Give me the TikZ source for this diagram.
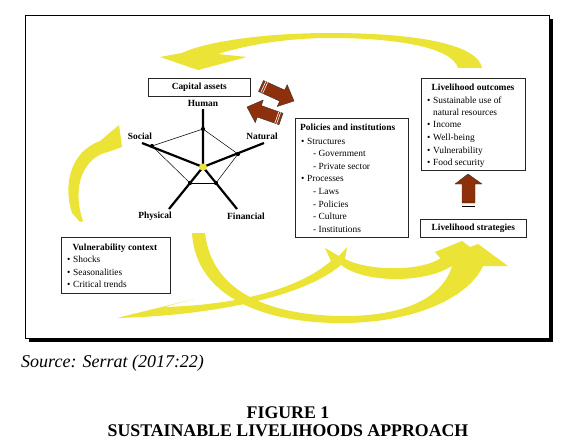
\documentclass[tikz,border=0pt]{standalone}
\usepackage{fontspec}
\setmainfont{Liberation Serif}
\usetikzlibrary{shapes.geometric}
\definecolor{ylw}{RGB}{235,228,55}
\definecolor{brn}{RGB}{142,48,12}
\tikzset{
  boxnode/.style={draw=black!85, line width=0.6pt, inner sep=0pt, anchor=north west},
  txt/.style={font=\fontsize{9.4}{11}\selectfont, inner sep=0pt, anchor=base west},
  ttl/.style={font=\fontsize{9.4}{11}\selectfont\bfseries, inner sep=0pt, anchor=base},
  lbl/.style={font=\fontsize{9.4}{11}\selectfont\bfseries, inner sep=0pt},
  yarrow/.style={fill=ylw, draw=none},
  barrow/.style={fill=brn, draw=black!80, line width=0.4pt, line join=round},
  spoke/.style={line width=2.2pt},
  web/.style={line width=0.5pt},
  dotnode/.style={circle, fill=black, inner sep=0pt, minimum size=4.2pt},
  captxt/.style={font=\fontsize{17.8}{20}\selectfont\bfseries, inner sep=0pt, anchor=base}
}
\begin{document}
\begin{tikzpicture}[x=1pt,y=-1pt]
\useasboundingbox (0,0) rectangle (576,444);
\fill[white] (0,0) rectangle (576,444);

% frame with shadow
\draw[line width=0.6pt] (25,15) rectangle (549,338);
\draw[line width=3.5pt] (551.5,19) -- (551.5,340.5) -- (29,340.5);

% ---------- yellow arrows ----------
% top arc: outcomes -> capital assets
\fill[yarrow] (482,68) .. controls (478,45) and (420,33) .. (330,33)
  .. controls (262,33) and (205,42) .. (182,53) -- (160,57) -- (198,70) -- (247,57) -- (218,54)
  .. controls (250,44) and (290,38) .. (330,38)
  .. controls (400,38) and (452,48) .. (458,68) -- cycle;
% left arc: vulnerability -> capital assets
\fill[yarrow] (80,222) -- (72,213) .. controls (63,185) and (70,152) .. (100,141) -- (119,125) -- (122,147) -- (108,152)
  .. controls (84,157) and (71,186) .. (83,221) -- cycle;
% big bottom arc: capital assets -> strategies
\fill[yarrow] (192,233) .. controls (196,300) and (270,324) .. (345,323)
  .. controls (420,322) and (470,295) .. (483,266) -- (508,266) -- (478,244) -- (470,247) -- (462,241) -- (435,252) -- (441,259) -- (453,262)
  .. controls (445,300) and (400,316) .. (345,316)
  .. controls (275,316) and (212,295) .. (205,233) -- cycle;
% policies -> strategies
\fill[yarrow] (339,256) -- (347,247) -- (345,259) .. controls (368,271) and (420,272) .. (441,258) -- (456,263)
  .. controls (430,284) and (365,284) .. (341,265) -- cycle;
% policies -> vulnerability
\fill[yarrow] (339,256) -- (325,248) -- (331,261) .. controls (300,288) and (240,305) .. (164,307) -- (194,299) -- (117,318)
  .. controls (200,316) and (300,300) .. (341,265) -- cycle;

% ---------- boxes ----------
\node[boxnode, minimum width=102pt, minimum height=18pt] (cap) at (148,78) {};
\node[ttl, anchor=center] (capt) at (cap.center) {Capital assets};

\node[boxnode, minimum width=113pt, minimum height=119pt] (pol) at (295,118) {};
\node[txt, font=\fontsize{9.4}{11}\selectfont\bfseries] (p0) at (300,131) {Policies and institutions};
\node[txt] (p1b) at (301,144) {\textbullet};
\node[txt] (p1) at (307,144) {Structures};
\node[txt] (p2) at (313,156) {- Government};
\node[txt] (p3) at (313,169) {- Private sector};
\node[txt] (p4b) at (301,181) {\textbullet};
\node[txt] (p4) at (307,181) {Processes};
\node[txt] (p5) at (313,194) {- Laws};
\node[txt] (p6) at (313,207) {- Policies};
\node[txt] (p7) at (313,219) {- Culture};
\node[txt] (p8) at (313,232) {- Institutions};

\node[boxnode, minimum width=104pt, minimum height=92pt] (out) at (421,78) {};
\node[ttl] (o0) at (473,91) {Livelihood outcomes};
\node[txt] (o1b) at (427,103) {\textbullet};
\node[txt] (o1) at (433,103) {Sustainable use of};
\node[txt] (o2) at (433,115) {natural resources};
\node[txt] (o3b) at (427,127) {\textbullet};
\node[txt] (o3) at (433,127) {Income};
\node[txt] (o4b) at (427,140) {\textbullet};
\node[txt] (o4) at (433,140) {Well-being};
\node[txt] (o5b) at (427,153) {\textbullet};
\node[txt] (o5) at (433,153) {Vulnerability};
\node[txt] (o6b) at (427,165) {\textbullet};
\node[txt] (o6) at (433,165) {Food security};

\node[boxnode, minimum width=106pt, minimum height=18pt] (str) at (420,219) {};
\node[ttl, anchor=center] (strt) at (str.center) {Livelihood strategies};

\node[boxnode, minimum width=109pt, minimum height=56pt] (vul) at (61,237) {};
\node[ttl] (v0) at (115,250) {Vulnerability context};
\node[txt] (v1b) at (67,262) {\textbullet};
\node[txt] (v1) at (73,262) {Shocks};
\node[txt] (v2b) at (67,275) {\textbullet};
\node[txt] (v2) at (73,275) {Seasonalities};
\node[txt] (v3b) at (67,287) {\textbullet};
\node[txt] (v3) at (73,287) {Critical trends};

% ---------- brown block arrows ----------
\filldraw[barrow] (258.5,91.5) -- (263.5,80.5) -- (284.7,90.1) -- (287.2,84.7) -- (294,101) -- (277.2,106.5) -- (279.7,101.1) -- cycle;
\draw[white, line width=0.6pt] (260.8,92.5) -- (265.8,81.5) (262.6,93.4) -- (267.6,82.4);
\filldraw[barrow] (283,113.3) -- (279,124.7) -- (257.3,117) -- (255.3,122.6) -- (247,107) -- (263.3,100) -- (261.3,105.6) -- cycle;
\draw[white, line width=0.6pt] (280.6,112.5) -- (276.6,123.9) (278.8,111.8) -- (274.8,123.2);
\filldraw[barrow] (468,174) -- (482,184) -- (475,184) -- (475,203) -- (462,203) -- (462,184) -- (455,184) -- cycle;
\draw[black!75, line width=0.8pt] (462,201) -- (475,201);
\draw[black, line width=1.2pt] (462,206.5) -- (475,206.5);

% ---------- capital assets pentagon ----------
\coordinate (c) at (203,167);
\coordinate (he) at (203,109);
\coordinate (se) at (142,143);
\coordinate (ne) at (264,143);
\coordinate (pe) at (169,209);
\coordinate (fe) at (237,209);
\draw[spoke] (c) -- (he) (c) -- (se) (c) -- (ne) (c) -- (pe) (c) -- (fe);
\node[dotnode] (hd) at (203,129) {};
\node[dotnode] (sd) at (152,146) {};
\node[dotnode] (nd) at (238,154) {};
\node[dotnode] (pd) at (190,183) {};
\node[dotnode] (fd) at (216,183) {};
\draw[web] (fd.center) -- (nd.center) -- (hd.center) -- (sd.center) -- (pd.center);
\draw[line width=1pt] (pd.center) -- (fd.center);
\node[ellipse, fill=ylw, inner sep=0pt, minimum width=8pt, minimum height=7pt] (cc) at (c) {};
\node[lbl] (hl) at (203,103) {Human};
\node[lbl] (sl) at (140,136) {Social};
\node[lbl] (nl) at (262,136) {Natural};
\node[lbl] (pl) at (155,216) {Physical};
\node[lbl] (fl) at (246,216) {Financial};

% ---------- captions ----------
\node[font=\fontsize{18}{20}\selectfont\itshape, inner sep=0pt, anchor=base west] (src) at (21,367) {Source: Serrat (2017:22)};
\node[captxt] (fig) at (288,418) {FIGURE 1};
\node[captxt] (ttlc) at (288,436) {SUSTAINABLE LIVELIHOODS APPROACH};
\end{tikzpicture}
\end{document}
